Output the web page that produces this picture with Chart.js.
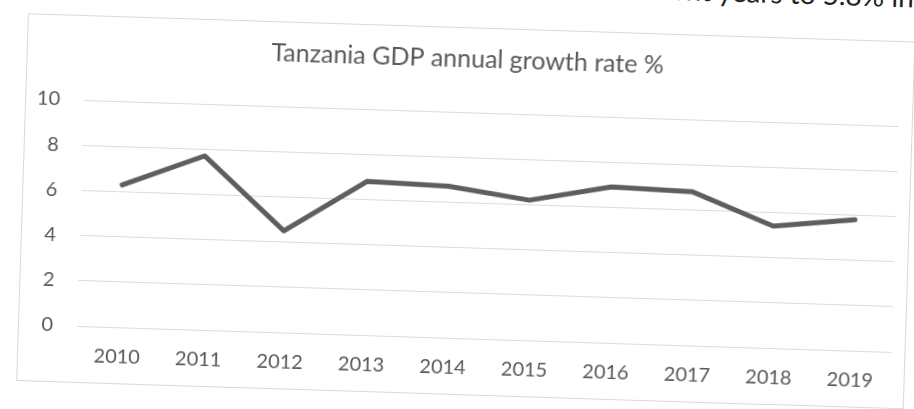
<!DOCTYPE html>
<html>
<head>
<meta charset="utf-8">
<script src="https://cdn.jsdelivr.net/npm/chart.js@4/dist/chart.umd.min.js"></script>
<style>
  html, body { margin: 0; padding: 0; background: #ffffff; overflow: hidden; }
  #page {
    position: absolute; left: 0; top: 0; width: 914px; height: 409px;
    transform: rotate(1.83deg); transform-origin: 457px 204.5px;
    font-family: Lato, "Open Sans", sans-serif;
  }
  #frame {
    position: absolute; left: 22px; top: 27px; width: 888px; height: 368px;
    border: 1px solid #d9d9d9; box-sizing: border-box;
  }
  #bodytext {
    position: absolute; right: 7px; top: -32px; font-size: 28px; line-height: 28px;
    color: #222222; white-space: nowrap;
  }
  #chart { position: absolute; left: 30px; top: 27px; }
</style>
</head>
<body>
<div id="page">
  <div id="bodytext">recent years to 5.8% in</div>
  <div id="frame"></div>
  <canvas id="chart" width="882" height="379"></canvas>
</div>
<script>
const years = ["2010", "2011", "2012", "2013", "2014", "2015", "2016", "2017", "2018", "2019"];
const growthRate = [6.3, 7.7, 4.5, 6.8, 6.7, 6.2, 6.9, 6.8, 5.4, 5.8];
const yTicks = [0, 2, 4, 6, 8, 10];
const chartTitle = "Tanzania GDP annual growth rate %";

const textColor = "#595959";

new Chart(document.getElementById("chart"), {
  type: "line",
  data: {
    labels: years,
    datasets: [{
      label: chartTitle,
      data: growthRate,
      borderColor: "#5e5e5e",
      borderWidth: 5,
      borderJoinStyle: "round",
      borderCapStyle: "round",
      pointRadius: 0,
      tension: 0,
      fill: false
    }]
  },
  options: {
    responsive: false,
    animation: false,
    devicePixelRatio: 1,
    layout: { padding: { left: 0, right: 16, top: 0, bottom: 8 } },
    plugins: {
      legend: { display: false },
      tooltip: { enabled: false },
      title: {
        display: true,
        text: chartTitle,
        color: textColor,
        font: { family: "Lato", size: 25, weight: "normal" },
        padding: { top: 17, bottom: 38 }
      }
    },
    scales: {
      x: {
        type: "category",
        offset: true,
        grid: { display: false, drawTicks: false },
        border: { display: false },
        ticks: {
          color: textColor,
          font: { family: "Lato", size: 20 },
          padding: 18,
          maxRotation: 0,
          autoSkip: false
        }
      },
      y: {
        min: yTicks[0],
        max: yTicks[yTicks.length - 1],
        afterBuildTicks: (scale) => { scale.ticks = yTicks.map(v => ({ value: v })); },
        afterFit: (scale) => { scale.width = 51; },
        grid: { color: "#dcdcdc", lineWidth: 1, drawTicks: false },
        border: { display: false },
        ticks: {
          color: textColor,
          font: { family: "Lato", size: 20 },
          padding: 24
        }
      }
    }
  }
});
</script>
</body>
</html>
